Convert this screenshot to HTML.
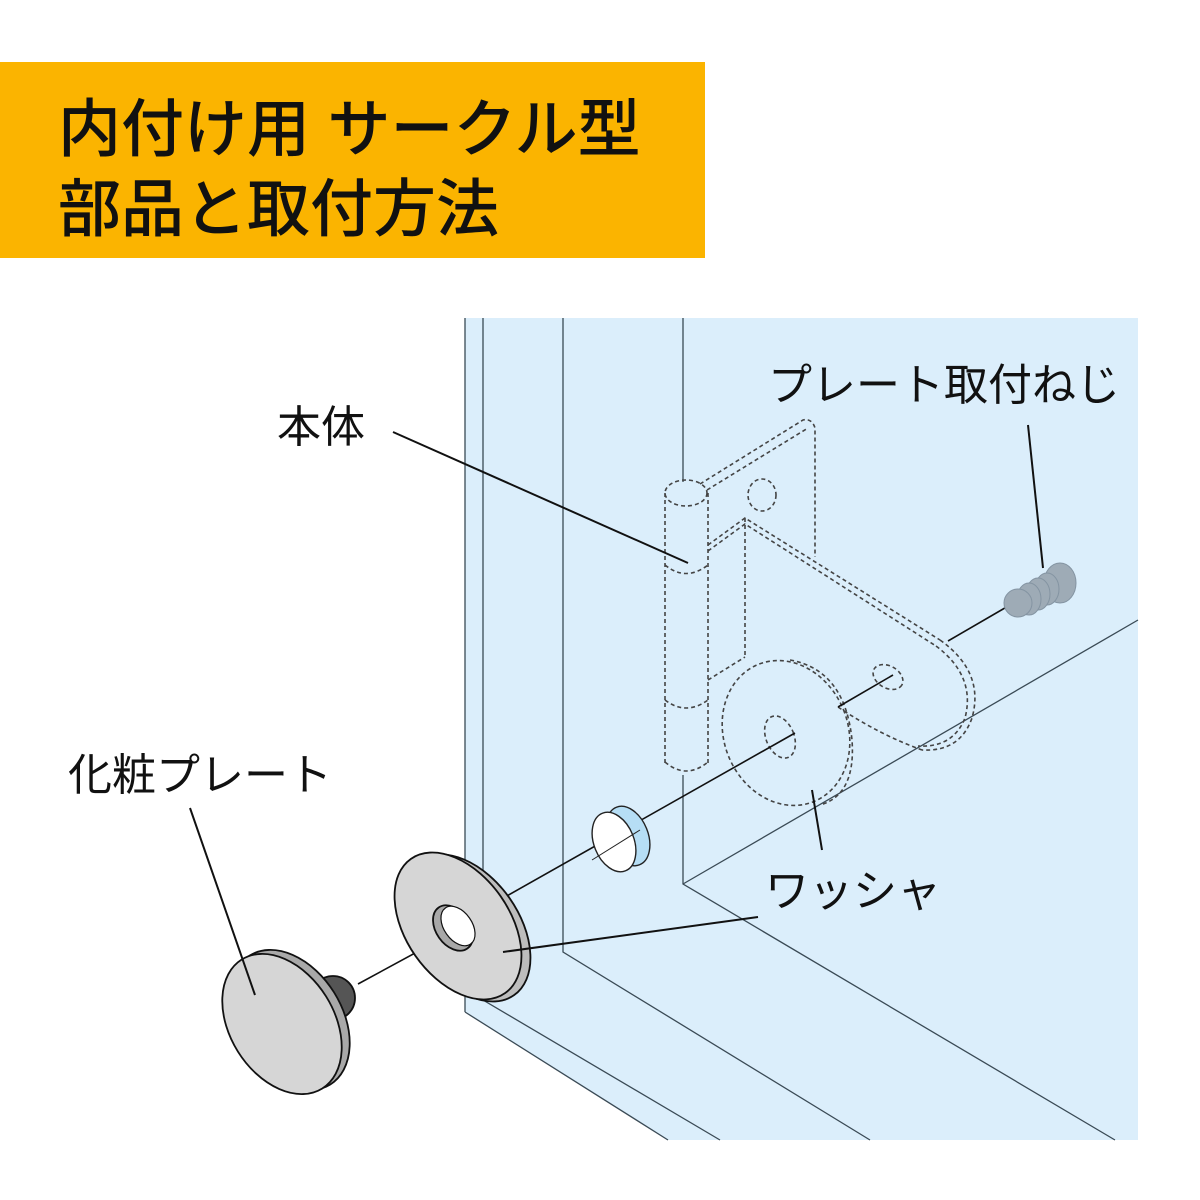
<!DOCTYPE html>
<html><head><meta charset="utf-8">
<style>
html,body{margin:0;padding:0;background:#fff;}
svg{display:block;}
text{font-family:"Liberation Sans","Noto Sans CJK JP",sans-serif;fill:#111;}
</style></head>
<body>
<svg width="1200" height="1200" viewBox="0 0 1200 1200" xmlns="http://www.w3.org/2000/svg">
<rect x="0" y="62" width="705" height="196" fill="#FBB400"/>
<text x="58" y="151" font-size="63" font-weight="500">内付け用 サークル型</text>
<text x="58" y="231" font-size="63" font-weight="500">部品と取付方法</text>

<!-- blue panel -->
<path d="M465 318 H1138 V1140 H668 L465 1012 Z" fill="#dbeefb"/>
<g stroke="#3a4a55" stroke-width="1.3" fill="none">
<line x1="465" y1="318" x2="465" y2="1012"/>
<path d="M483 318 V1000 L720 1140"/>
<path d="M563 318 V952 L870 1140"/>
<line x1="683" y1="318" x2="683" y2="482"/>
<path d="M683 775 V884 L1115 1140"/>
<line x1="683" y1="884" x2="1138" y2="620"/>
<line x1="465" y1="1012" x2="668" y2="1140"/>
</g>

<!-- hinge body dashed -->
<g stroke="#444" stroke-width="1.6" fill="none" stroke-dasharray="4 3">
<ellipse cx="686" cy="493" rx="21" ry="13"/>
<line x1="665" y1="493" x2="665" y2="765"/>
<line x1="708" y1="493" x2="708" y2="765"/>
<path d="M665 565 Q686 582 708 565"/>
<path d="M665 700 Q686 716 708 700"/>
<path d="M665 762 Q686 780 708 762"/>
<path d="M700 484 L803 420 Q812 418 815 428 V557"/>
<path d="M707 490 L808 428"/>
<ellipse cx="762" cy="495" rx="14" ry="16"/>
<path d="M708 545 L745 518 L940 640"/>
<path d="M708 551 L745 524 L936 646"/>
<line x1="745" y1="518" x2="745" y2="655"/>
<path d="M940 640 Q985 672 972 718 Q960 752 922 750"/>
<path d="M936 646 Q976 676 965 718 Q953 748 918 746"/>
<path d="M838 707 Q880 735 922 750"/>
<path d="M708 680 L745 657"/>
<ellipse cx="786" cy="733" rx="62" ry="74" transform="rotate(-22 786 733)"/>
<path d="M790 660 Q845 670 852 740 Q856 795 820 805"/>
<ellipse cx="780" cy="737" rx="14" ry="22" transform="rotate(-22 780 737)"/>
<ellipse cx="888" cy="677" rx="16" ry="11" transform="rotate(30 888 677)"/>
</g>

<!-- axis lines -->
<g stroke="#111" stroke-width="1.6" fill="none">
<line x1="358" y1="984" x2="452" y2="933"/>
<line x1="505" y1="897" x2="795" y2="733"/>
<line x1="838" y1="707" x2="893" y2="675"/>
<line x1="948" y1="641" x2="1010" y2="605"/>
</g>

<!-- screw -->
<g fill="#9eabb6" stroke="#8494a2" stroke-width="1">
<ellipse cx="1060" cy="583" rx="16" ry="20"/>
<ellipse cx="1047" cy="589" rx="12" ry="16"/>
<ellipse cx="1038" cy="594" rx="12" ry="16"/>
<ellipse cx="1029" cy="599" rx="12" ry="16"/>
<ellipse cx="1018" cy="603" rx="14" ry="14"/>
</g>

<!-- bushing -->
<ellipse cx="628" cy="836" rx="20" ry="31" transform="rotate(-22 628 836)" fill="#b6def5" stroke="#222" stroke-width="1.4"/>
<ellipse cx="614" cy="842" rx="20" ry="31" transform="rotate(-22 614 842)" fill="#fff" stroke="#222" stroke-width="1.4"/>
<line x1="592" y1="860" x2="640" y2="830" stroke="#222" stroke-width="1"/>

<!-- washer -->
<g stroke="#111" stroke-width="1.8">
<ellipse cx="467" cy="928" rx="82" ry="52" transform="rotate(55 467 928)" fill="#bdbdbd"/>
<ellipse cx="458" cy="926" rx="82" ry="52" transform="rotate(55 458 926)" fill="#d6d6d6"/>
<ellipse cx="453" cy="928" rx="25" ry="17" transform="rotate(55 453 928)" fill="#a8a8a8"/>
<ellipse cx="458" cy="926" rx="22" ry="14" transform="rotate(55 458 926)" fill="#fff" stroke-width="1.2"/>
</g>

<!-- knob -->
<g stroke="#111" stroke-width="1.8">
<circle cx="333" cy="998" r="22" fill="#555"/>
<ellipse cx="290" cy="1020" rx="76" ry="52" transform="rotate(58 290 1020)" fill="#a9a9a9"/>
<ellipse cx="282" cy="1024" rx="76" ry="52" transform="rotate(58 282 1024)" fill="#d6d6d6"/>
</g>

<!-- leaders -->
<g stroke="#111" stroke-width="2" fill="none">
<line x1="393" y1="432" x2="688" y2="563"/>
<line x1="1028" y1="425" x2="1043" y2="568"/>
<line x1="190" y1="808" x2="255" y2="995"/>
<line x1="758" y1="917" x2="503" y2="952"/>
<line x1="812" y1="790" x2="822" y2="850"/>
</g>

<text x="277" y="442" font-size="44">本体</text>
<text x="768" y="400" font-size="44">プレート取付ねじ</text>
<text x="68" y="790" font-size="44">化粧プレート</text>
<text x="765" y="906" font-size="44">ワッシャ</text>
</svg>
</body></html>
